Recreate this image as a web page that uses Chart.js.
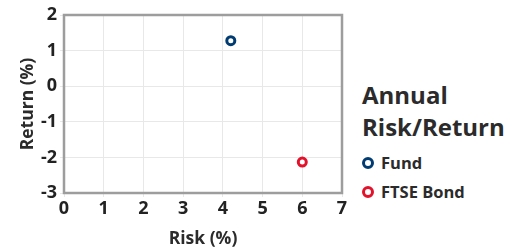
<!DOCTYPE html>
<html>
<head>
<meta charset="utf-8">
<script src="https://cdn.jsdelivr.net/npm/chart.js@4"></script>
<style>
  html, body { margin: 0; padding: 0; background: #fff; }
  #wrap { position: relative; width: 523px; height: 248px; font-family: "Open Sans", sans-serif; }
  #box { position: absolute; left: 0; top: 0; width: 360px; height: 248px; }
  #legend { position: absolute; left: 362px; top: 79px; color: #2b2b2b; }
  #legend .title { font-size: 24px; font-weight: 700; line-height: 32px; margin-bottom: 5px; }
  #legend .item { font-size: 16.5px; font-weight: 700; display: flex; align-items: center; height: 29px; }
  #legend .dot { width: 6px; height: 6px; border-radius: 50%; border: 3.5px solid; margin-right: 7px; background: #fff; }
</style>
</head>
<body>
<div id="wrap">
  <div id="box"><canvas id="chart"></canvas></div>
  <div id="legend"></div>
</div>
<script>
// Series (risk %, return %)
const seriesNames = ['Fund', 'FTSE Bond'];
const seriesColors = ['#003b71', '#e4112b'];
const fundPoint = [{ x: 4.2, y: 1.28 }];
const ftsePoint = [{ x: 6.0, y: -2.13 }];
const legendTitle = ['Annual', 'Risk/Return'];

// Axes
const xMin = 0, xMax = 7;
const yMin = -3, yMax = 2;

// draw the frame around the plot area
const frame = {
    id: 'frame',
    afterDraw(chart) {
        const { ctx, chartArea: a } = chart;
        ctx.save();
        ctx.strokeStyle = '#9d9d9d';
        ctx.lineWidth = 2.5;
        ctx.strokeRect(a.left, a.top, a.right - a.left, a.bottom - a.top);
        ctx.restore();
    }
};

const tickFont = { family: 'Open Sans', size: 18, weight: 'bold' };
const titleFont = { family: 'Open Sans', size: 17.5, weight: 'bold', lineHeight: 1 };

const chart = new Chart(document.getElementById('chart'), {
    type: 'scatter',
    data: {
        datasets: [fundPoint, ftsePoint].map((pts, i) => ({
            label: seriesNames[i],
            data: pts,
            borderColor: seriesColors[i],
            backgroundColor: '#fff',
            borderWidth: 3,
            pointRadius: 4,
            pointHoverRadius: 4
        }))
    },
    options: {
        responsive: true,
        maintainAspectRatio: false,
        animation: false,
        layout: { padding: { top: 15, right: 18, left: 0, bottom: 0 } },
        plugins: { legend: { display: false }, tooltip: { enabled: false } },
        scales: {
            x: {
                min: xMin, max: xMax,
                afterFit: s => { s.height = 55; },
                ticks: { stepSize: 1, color: '#222', font: tickFont, padding: 1 },
                grid: { color: '#e8e8e8', tickLength: 4 },
                border: { display: false },
                title: { display: true, text: 'Risk (%)', color: '#2b2b2b', font: titleFont, padding: { top: 0, bottom: 0 } }
            },
            y: {
                min: yMin, max: yMax,
                afterFit: s => { s.width = 64; },
                ticks: { stepSize: 1, color: '#222', font: tickFont, padding: 3 },
                grid: { color: '#e8e8e8', tickLength: 4 },
                border: { display: false },
                title: { display: true, text: 'Return (%)', color: '#2b2b2b', font: titleFont, padding: { top: 19, bottom: 0 } }
            }
        }
    },
    plugins: [frame]
});

// HTML legend
const legend = document.getElementById('legend');
legend.innerHTML = `<div class="title">${legendTitle.join('<br>')}</div>` +
    chart.data.datasets.map(d =>
        `<div class="item"><span class="dot" style="border-color:${d.borderColor}"></span>${d.label}</div>`
    ).join('');
</script>
</body>
</html>
